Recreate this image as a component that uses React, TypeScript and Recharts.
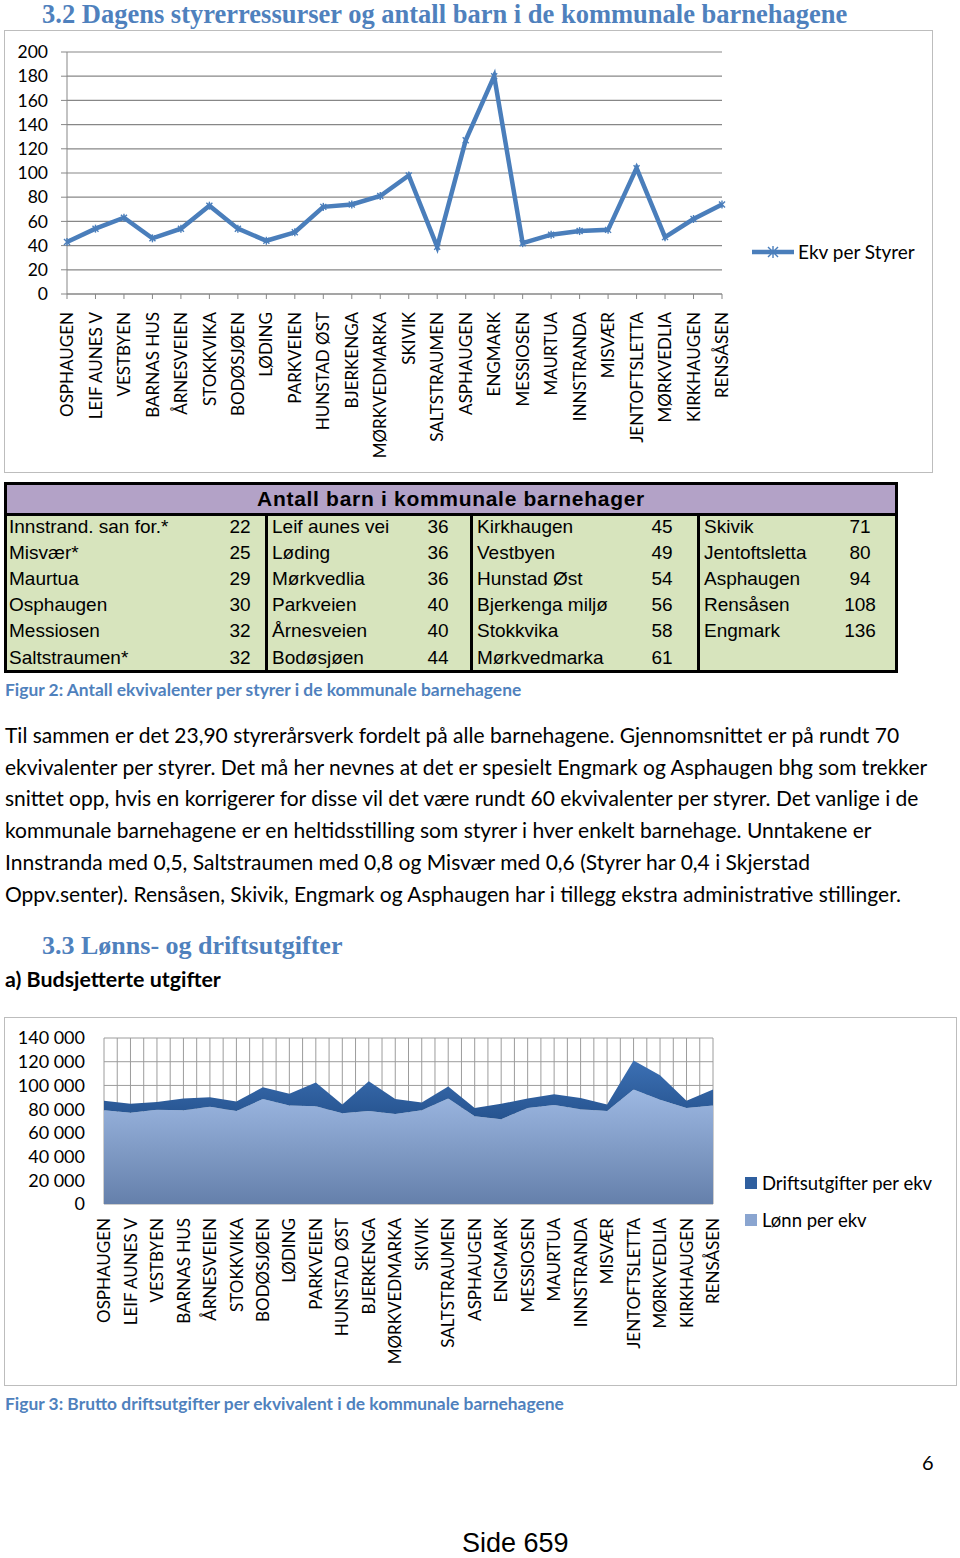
import React from 'react';
import {
  LineChart,
  Line,
  AreaChart,
  Area,
  XAxis,
  YAxis,
  CartesianGrid,
  Legend,
} from 'recharts';

// kindergartens in the order used by both charts
const kindergartens = [
  'OSPHAUGEN', 'LEIF AUNES V', 'VESTBYEN', 'BARNAS HUS', 'ÅRNESVEIEN', 'STOKKVIKA',
  'BODØSJØEN', 'LØDING', 'PARKVEIEN', 'HUNSTAD ØST', 'BJERKENGA', 'MØRKVEDMARKA',
  'SKIVIK', 'SALTSTRAUMEN', 'ASPHAUGEN', 'ENGMARK', 'MESSIOSEN', 'MAURTUA',
  'INNSTRANDA', 'MISVÆR', 'JENTOFTSLETTA', 'MØRKVEDLIA', 'KIRKHAUGEN', 'RENSÅSEN',
];

// Figur 2
const ekvPerStyrer = [43, 54, 63, 46, 54, 73, 54, 44, 51, 72, 74, 81, 98, 39, 127, 180, 42, 49, 52, 53, 104, 47, 62, 74];
const ekvTicks = [0, 20, 40, 60, 80, 100, 120, 140, 160, 180, 200];

// Figur 3
const lonnPerEkv = [79000, 77000, 79500, 79000, 82000, 78500, 88500, 83000, 82500, 76500, 78500, 76000, 79000, 89000, 74000, 71500, 81000, 83500, 80000, 78500, 96500, 88000, 81000, 83000];
const driftPerEkv = [8000, 7500, 6500, 10000, 8000, 8000, 10000, 10000, 20000, 7500, 25000, 12500, 6500, 10000, 7000, 13000, 8000, 9000, 9500, 5500, 24500, 20500, 6000, 13500];
const costTicks = [0, 20000, 40000, 60000, 80000, 100000, 120000, 140000];

// table "Antall barn i kommunale barnehager"
const barnNavn = [
  'Innstrand. san for.*', 'Misvær*', 'Maurtua', 'Osphaugen', 'Messiosen', 'Saltstraumen*',
  'Leif aunes vei', 'Løding', 'Mørkvedlia', 'Parkveien', 'Årnesveien', 'Bodøsjøen',
  'Kirkhaugen', 'Vestbyen', 'Hunstad Øst', 'Bjerkenga miljø', 'Stokkvika', 'Mørkvedmarka',
  'Skivik', 'Jentoftsletta', 'Asphaugen', 'Rensåsen', 'Engmark',
];
const barnAntall = [22, 25, 29, 30, 32, 32, 36, 36, 36, 40, 40, 44, 45, 49, 54, 56, 58, 61, 71, 80, 94, 108, 136];

const paragraphLines = [
  'Til sammen er det 23,90 styrerårsverk fordelt på alle barnehagene. Gjennomsnittet er på rundt 70',
  'ekvivalenter per styrer. Det må her nevnes at det er spesielt Engmark og Asphaugen bhg som trekker',
  'snittet opp, hvis en korrigerer for disse vil det være rundt 60 ekvivalenter per styrer. Det vanlige i de',
  'kommunale barnehagene er en heltidsstilling som styrer i hver enkelt barnehage. Unntakene er',
  'Innstranda med 0,5, Saltstraumen med 0,8 og Misvær med 0,6 (Styrer har 0,4 i Skjerstad',
  'Oppv.senter). Rensåsen, Skivik, Engmark og Asphaugen har i tillegg ekstra administrative stillinger.',
];

const ekvData = kindergartens.map((name, i) => ({ name, ekv: ekvPerStyrer[i] }));
const costData = kindergartens.map((name, i) => ({ idx: i, name, lonn: lonnPerEkv[i], drift: driftPerEkv[i] }));
const halfTicks = Array.from({ length: kindergartens.length * 2 - 1 }, (_, i) => i / 2);

const BLUE = '#4A7EBB';
const HEAD = '#4F81BD';
const GRID = '#878787';
const SANS = 'Lato, sans-serif';
const legendColors: Record<string, string> = { lonn: '#8AA5D0', drift: '#2F5F9F' };

const fmtThousands = (v: number) => String(v).replace(/\B(?=(\d{3})+(?!\d))/g, ' ');

function RotatedTick(props: any) {
  const { x, y, payload, labels } = props;
  const v = payload.value;
  const label = labels ? (Number.isInteger(v) ? labels[v] : '') : v;
  if (!label) return null;
  return (
    <text
      x={x}
      y={y}
      transform={`rotate(-90, ${x}, ${y})`}
      textAnchor="end"
      dy="0.36em"
      fontSize={17}
      fontFamily={SANS}
      fill="#000"
    >
      {label}
    </text>
  );
}

function StarDot(props: any) {
  const { cx, cy, r = 5, color = BLUE } = props;
  if (cx == null || cy == null) return null;
  return (
    <g stroke={color} strokeWidth={1.4}>
      <line x1={cx - r} y1={cy - r} x2={cx + r} y2={cy + r} />
      <line x1={cx - r} y1={cy + r} x2={cx + r} y2={cy - r} />
      <line x1={cx} y1={cy - r - 1} x2={cx} y2={cy + r + 1} />
    </g>
  );
}

function LineLegend({ payload }: any) {
  return (
    <div>
      {(payload || []).map((p: any) => (
        <div key={p.value} style={{ display: 'flex', alignItems: 'center', fontFamily: SANS, fontSize: 19, lineHeight: '24px', color: '#000' }}>
          <svg width={44} height={16}>
            <line x1={1} y1={8} x2={43} y2={8} stroke={p.color} strokeWidth={4.5} />
            <StarDot cx={22} cy={8} r={5} color={p.color} />
          </svg>
          <span style={{ marginLeft: 3, whiteSpace: 'nowrap' }}>{p.value}</span>
        </div>
      ))}
    </div>
  );
}

function AreaLegend({ payload }: any) {
  const items = [...(payload || [])].sort((a: any, b: any) => (a.dataKey === 'drift' ? -1 : b.dataKey === 'drift' ? 1 : 0));
  return (
    <div>
      {items.map((p: any) => (
        <div key={p.value} style={{ display: 'flex', alignItems: 'center', fontFamily: SANS, fontSize: 18.5, lineHeight: '24px', height: 37, color: '#000' }}>
          <span style={{ width: 12, height: 12, background: legendColors[p.dataKey] || '#888', display: 'inline-block' }} />
          <span style={{ marginLeft: 5, whiteSpace: 'nowrap' }}>{p.value}</span>
        </div>
      ))}
    </div>
  );
}

function KidsTable() {
  const cols = [
    { left: 0, width: 258, nameX: 2, numX: 233 },
    { left: 258, width: 205, nameX: 4, numX: 170 },
    { left: 463, width: 227, nameX: 4, numX: 189 },
    { left: 690, width: 198, nameX: 4, numX: 160 },
  ];
  return (
    <div
      style={{
        position: 'absolute', left: 4, top: 482, width: 894, height: 191, boxSizing: 'border-box',
        border: '3px solid #000', background: '#D7E4BD', fontFamily: '"Liberation Sans", Arial, sans-serif', color: '#000',
      }}
    >
      <div
        style={{
          height: 28, background: '#B3A2C7', borderBottom: '3px solid #000', textAlign: 'center',
          fontWeight: 'bold', fontSize: 21, lineHeight: '28px', letterSpacing: 0.7,
        }}
      >
        Antall barn i kommunale barnehager
      </div>
      {cols.map((c, ci) => (
        <div key={ci} style={{ position: 'absolute', left: c.left, top: 31, width: c.width, height: 154, borderLeft: ci > 0 ? '3px solid #000' : 'none' }}>
          {barnNavn.slice(ci * 6, ci * 6 + 6).map((n, ri) => (
            <div key={n} style={{ position: 'absolute', top: ri * 26.2 - 2.5, left: 0, width: c.width, height: 26, fontSize: 19, lineHeight: '26px' }}>
              <span style={{ position: 'absolute', left: c.nameX, whiteSpace: 'nowrap' }}>{n}</span>
              <span style={{ position: 'absolute', left: c.numX - 20, width: 40, textAlign: 'center' }}>{barnAntall[ci * 6 + ri]}</span>
            </div>
          ))}
        </div>
      ))}
    </div>
  );
}

export default function App() {
  return (
    <div style={{ position: 'absolute', left: 0, top: 0, width: 960, height: 1558, background: '#fff', overflow: 'hidden' }}>
      <div style={{ position: 'absolute', left: 42, top: 2, fontFamily: '"Liberation Serif", serif', fontWeight: 'bold', fontSize: 26.5, lineHeight: '24px', color: HEAD, whiteSpace: 'nowrap' }}>
        3.2 Dagens styrerressurser og antall barn i de kommunale barnehagene
      </div>

      {/* Figur 2 chart */}
      <div style={{ position: 'absolute', left: 4, top: 30, width: 930, height: 444 }}>
        <LineChart width={930} height={444} data={ekvData} margin={{ top: 22, right: 212, bottom: 0, left: 0 }}>
          <CartesianGrid vertical={false} stroke={GRID} strokeWidth={1.2} />
          <XAxis
            dataKey="name"
            interval={0}
            height={180}
            tickSize={5}
            tickMargin={13}
            stroke={GRID}
            tick={<RotatedTick />}
          />
          <YAxis
            width={63}
            domain={[0, 200]}
            ticks={ekvTicks}
            interval={0}
            tickSize={6}
            tickMargin={13}
            stroke={GRID}
            tick={{ fontSize: 17.5, fontFamily: SANS, fill: '#000' }}
          />
          <Line
            dataKey="ekv"
            name="Ekv per Styrer"
            stroke={BLUE}
            strokeWidth={4.5}
            dot={<StarDot />}
            activeDot={false}
            isAnimationActive={false}
          />
          <Legend
            layout="horizontal"
            verticalAlign="middle"
            align="center"
            content={<LineLegend />}
            wrapperStyle={{ left: 747, top: 210, width: 'auto' }}
          />
        </LineChart>
        <div style={{ position: 'absolute', left: 0, top: 0, width: 929, height: 443, border: '1px solid #bdbdbd', boxSizing: 'border-box', pointerEvents: 'none' }} />
      </div>

      <KidsTable />

      <div style={{ position: 'absolute', left: 5, top: 679, fontFamily: SANS, fontWeight: 'bold', fontSize: 17.4, lineHeight: '22px', color: HEAD, whiteSpace: 'nowrap' }}>
        Figur 2: Antall ekvivalenter per styrer i de kommunale barnehagene
      </div>

      <div style={{ position: 'absolute', left: 5, top: 719, fontFamily: SANS, fontSize: 21, lineHeight: '31.7px', color: '#000' }}>
        {paragraphLines.map((l) => (
          <div key={l} style={{ whiteSpace: 'nowrap' }}>{l}</div>
        ))}
      </div>

      <div style={{ position: 'absolute', left: 42, top: 933, fontFamily: '"Liberation Serif", serif', fontWeight: 'bold', fontSize: 26, lineHeight: '26px', color: HEAD, whiteSpace: 'nowrap' }}>
        3.3 Lønns- og driftsutgifter
      </div>
      <div style={{ position: 'absolute', left: 5, top: 966, fontFamily: SANS, fontWeight: 'bold', fontSize: 21.4, lineHeight: '26px', color: '#000', whiteSpace: 'nowrap' }}>
        a) Budsjetterte utgifter
      </div>

      {/* Figur 3 chart */}
      <div style={{ position: 'absolute', left: 4, top: 1017, width: 953, height: 369 }}>
        <AreaChart width={953} height={369} data={costData} margin={{ top: 21, right: 244, bottom: 0, left: 0 }}>
          <defs>
            <linearGradient id="lonnFill" x1="0" y1="0" x2="0" y2="1">
              <stop offset="0%" stopColor="#9DB8E2" />
              <stop offset="100%" stopColor="#6580AB" />
            </linearGradient>
            <linearGradient id="driftFill" x1="0" y1="0" x2="0" y2="1">
              <stop offset="0%" stopColor="#3C70B4" />
              <stop offset="100%" stopColor="#26538F" />
            </linearGradient>
          </defs>
          <CartesianGrid stroke="#9c9c9c" />
          <XAxis
            type="number"
            dataKey="idx"
            domain={[0, kindergartens.length - 1]}
            ticks={halfTicks}
            interval={0}
            height={182}
            tickLine={false}
            axisLine={false}
            tickSize={0}
            tickMargin={14}
            tick={<RotatedTick labels={kindergartens} />}
          />
          <YAxis
            width={100}
            domain={[0, 140000]}
            ticks={costTicks}
            interval={0}
            tickLine={false}
            axisLine={false}
            tickSize={0}
            tickMargin={19}
            tickFormatter={fmtThousands}
            tick={{ fontSize: 18, fontFamily: SANS, fill: '#000' }}
          />
          <Area
            dataKey="lonn"
            name="Lønn per ekv"
            stackId="1"
            stroke="none"
            fill="url(#lonnFill)"
            fillOpacity={1}
            isAnimationActive={false}
          />
          <Area
            dataKey="drift"
            name="Driftsutgifter per ekv"
            stackId="1"
            stroke="none"
            fill="url(#driftFill)"
            fillOpacity={1}
            isAnimationActive={false}
          />
          <Legend
            layout="horizontal"
            verticalAlign="middle"
            align="center"
            content={<AreaLegend />}
            wrapperStyle={{ left: 741, top: 147, width: 'auto' }}
          />
        </AreaChart>
        <div style={{ position: 'absolute', left: 0, top: 0, width: 953, height: 369, border: '1px solid #bdbdbd', boxSizing: 'border-box', pointerEvents: 'none' }} />
      </div>

      <div style={{ position: 'absolute', left: 5, top: 1393, fontFamily: SANS, fontWeight: 'bold', fontSize: 17.4, lineHeight: '22px', color: HEAD, whiteSpace: 'nowrap' }}>
        Figur 3: Brutto driftsutgifter per ekvivalent i de kommunale barnehagene
      </div>

      <div style={{ position: 'absolute', left: 922, top: 1450, fontFamily: SANS, fontSize: 20, lineHeight: '24px', color: '#000' }}>6</div>
      <div style={{ position: 'absolute', left: 462, top: 1529, fontFamily: '"Liberation Sans", Arial, sans-serif', fontSize: 27, lineHeight: '28px', color: '#000', whiteSpace: 'nowrap' }}>
        Side 659
      </div>
    </div>
  );
}
